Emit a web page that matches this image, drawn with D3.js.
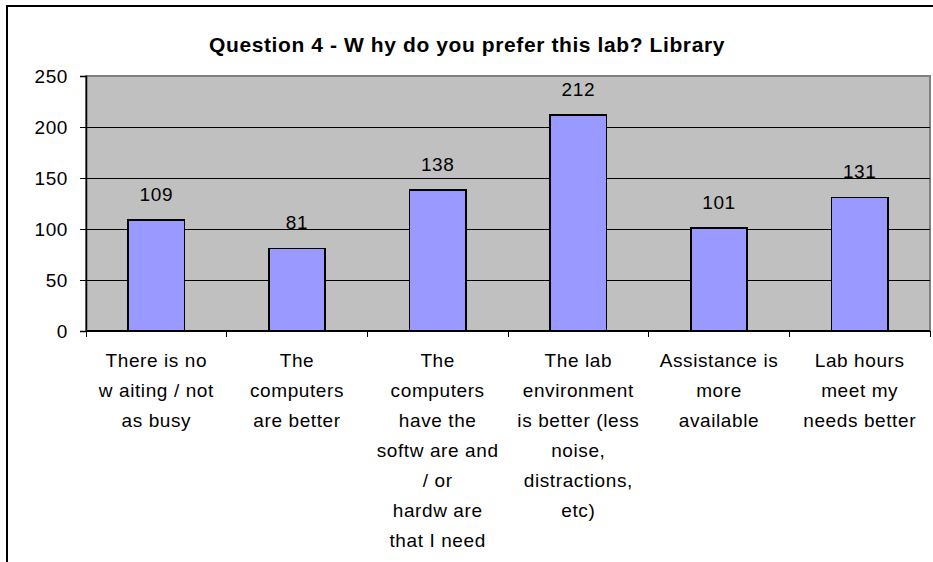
<!DOCTYPE html>
<html>
<head>
<meta charset="utf-8">
<script src="https://cdn.jsdelivr.net/npm/d3@7"></script>
<style>
  body { margin: 0; background: #fff; }
  text { font-family: Arial, "Liberation Sans", sans-serif; fill: #000; }
  line, rect { shape-rendering: crispEdges; }
</style>
</head>
<body>
<script>
// chart values
var categories = ["c1", "c2", "c3", "c4", "c5", "c6"];
var labelLines = [
  ["There is no", "w aiting / not", "as busy"],
  ["The", "computers", "are better"],
  ["The", "computers", "have the", "softw are and", "/ or", "hardw are", "that I need"],
  ["The lab", "environment", "is better (less", "noise,", "distractions,", "etc)"],
  ["Assistance is", "more", "available"],
  ["Lab hours", "meet my", "needs better"]
];
var counts = [109, 81, 138, 212, 101, 131];
var yTicks = [0, 50, 100, 150, 200, 250];
var title = "Question 4 - W hy do you prefer this lab? Library";

var W = 933, H = 562;
var svg = d3.select("body").append("svg")
  .attr("width", W)
  .attr("height", H);

// outer chart border (cropped on right / bottom)
svg.append("rect")
  .attr("x", 7).attr("y", 6)
  .attr("width", 1000).attr("height", 1000)
  .attr("fill", "#fff")
  .attr("stroke", "#000")
  .attr("stroke-width", 2);

// plot area edges ("top" is taken by window.top)
var pLeft = 86, pRight = 930, pTop = 76, pBottom = 331;

var band = d3.scaleBand().domain(categories).range([pLeft, pRight]);

var y = d3.scaleLinear()
  .domain([0, 250])
  .range([pBottom, pTop]);

// plot area
svg.append("rect")
  .attr("x", pLeft).attr("y", pTop)
  .attr("width", pRight - pLeft).attr("height", pBottom - pTop)
  .attr("fill", "#C0C0C0")
  .attr("stroke", "#808080")
  .attr("stroke-width", 1.5);

// gridlines
svg.append("g").selectAll("line")
  .data(yTicks.filter(d => d > 0 && d < 250))
  .enter().append("line")
  .attr("x1", pLeft).attr("x2", pRight)
  .attr("y1", d => y(d)).attr("y2", d => y(d))
  .attr("stroke", "#000")
  .attr("stroke-width", 1);

// bars, gap width 150%
svg.append("g").selectAll("rect")
  .data(counts)
  .enter().append("rect")
  .attr("x", (d, i) => band(categories[i]) + band.bandwidth() * 0.3)
  .attr("width", band.bandwidth() * 0.4)
  .attr("y", d => y(d))
  .attr("height", d => pBottom - y(d))
  .attr("fill", "#9999FF")
  .attr("stroke", "#000")
  .attr("stroke-width", 1.5);

// value labels
svg.append("g").selectAll("text")
  .data(counts)
  .enter().append("text")
  .attr("x", (d, i) => band(categories[i]) + band.bandwidth() / 2)
  .attr("y", d => y(d) - 19)
  .attr("text-anchor", "middle")
  .style("font-size", "19px")
  .style("letter-spacing", "0.6px")
  .text(d => d);

// y axis
var yAxis = d3.axisLeft(y).tickValues(yTicks).tickSize(6).tickPadding(12);
var gy = svg.append("g")
  .attr("transform", "translate(" + pLeft + ",0)")
  .call(yAxis);
gy.selectAll("text")
  .style("font-size", "19px")
  .style("letter-spacing", "0.6px")
  .style("font-family", "Arial, 'Liberation Sans', sans-serif");
gy.selectAll("line").attr("stroke", "#000");
gy.select(".domain").attr("stroke", "#000").attr("stroke-width", 1.5);

// x axis line + ticks at category edges
var edges = categories.map(c => band(c)).concat([pRight]);
svg.append("line")
  .attr("x1", pLeft).attr("x2", pRight)
  .attr("y1", pBottom).attr("y2", pBottom)
  .attr("stroke", "#000").attr("stroke-width", 1.5);
svg.append("g").selectAll("line")
  .data(edges)
  .enter().append("line")
  .attr("x1", d => d).attr("x2", d => d)
  .attr("y1", pBottom).attr("y2", pBottom + 6)
  .attr("stroke", "#000");

// category labels
var lab = svg.append("g").selectAll("text")
  .data(labelLines)
  .enter().append("text")
  .attr("text-anchor", "middle")
  .style("font-size", "19px")
  .style("letter-spacing", "0.6px")
  .attr("transform", (d, i) => "translate(" + (band(categories[i]) + band.bandwidth() / 2) + ",367)");
lab.selectAll("tspan")
  .data(d => d)
  .enter().append("tspan")
  .attr("x", 0)
  .attr("y", (d, i) => i * 30)
  .text(d => d);

// title
svg.append("text")
  .attr("x", 467)
  .attr("y", 52)
  .attr("text-anchor", "middle")
  .style("font-size", "21px")
  .style("font-weight", "bold")
  .style("letter-spacing", "0.6px")
  .text(title);
</script>
</body>
</html>
